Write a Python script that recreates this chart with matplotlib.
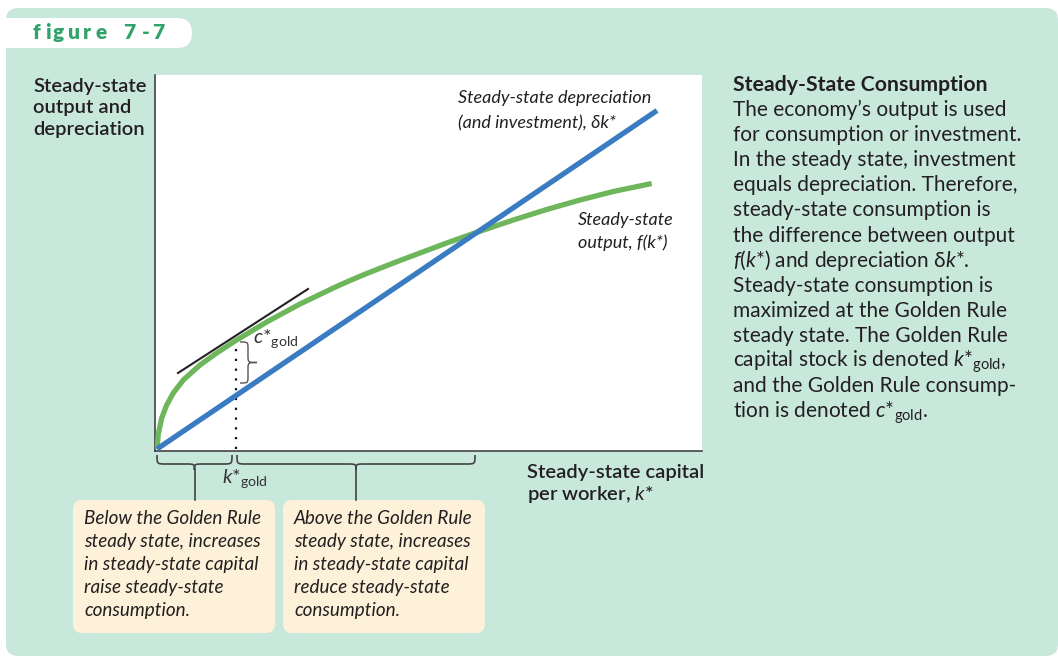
import numpy as np
import matplotlib.pyplot as plt
from matplotlib.patches import FancyBboxPatch, PathPatch
from matplotlib.path import Path

plt.rcParams['font.family'] = ['Lato', 'DejaVu Sans']
plt.rcParams['mathtext.fontset'] = 'custom'
plt.rcParams['mathtext.rm'] = 'Lato'
plt.rcParams['mathtext.it'] = 'Lato:italic'
plt.rcParams['mathtext.bf'] = 'Lato:bold'

# values (arbitrary units, no ticks in the original)
k_output = [0, 1.3, 4.7, 9.7, 16.3, 26.3, 43, 59.7, 78, 93, 109.7, 126.3, 143,
            159.7, 176.3, 193, 209.7, 226.3, 243, 256.3, 289.7, 316.3, 356.3,
            389.7, 423, 456.3, 494.7]
output = [0, 15, 31, 44, 56, 69, 84, 96, 108, 117, 127, 136, 145,
          153, 161, 168.5, 175.5, 182, 188.5, 193.5, 206, 215.5, 229,
          239.5, 249, 257.5, 265.5]
k_dep = [0, 500]
depreciation = [0, 338.5]
k_tangent = [21, 151]
tangent = [76, 160]
k_gold = 79
c_gold_top = 107
c_gold_bottom = 66
k_cross = 318

PANEL = '#c9e8dc'
CREAM = '#fdf1da'
GREEN = '#6db65b'
BLUE = '#3a7cc2'
INK = '#231f20'
TAB_GREEN = '#2fa36a'
COND = ['Liberation Sans Narrow', 'Lato', 'DejaVu Sans']


def brace(ax, u0, u1, v0, vmid, vtip, r, vertical=False, **kw):
    um = (u0 + u1) / 2
    pts = [(u0, v0), (u0, vmid), (u0, vmid), (u0 + r, vmid),
           (um - r, vmid), (um, vmid), (um, vmid), (um, vtip),
           (um, vmid), (um, vmid), (um + r, vmid),
           (u1 - r, vmid), (u1, vmid), (u1, vmid), (u1, v0)]
    codes = [Path.MOVETO] + [Path.CURVE4] * 3 + [Path.LINETO] + [Path.CURVE4] * 6 \
        + [Path.LINETO] + [Path.CURVE4] * 3
    if vertical:
        pts = [(v, u) for u, v in pts]
    ax.add_patch(PathPatch(Path(pts, codes), fill=False, clip_on=False, **kw))


fig = plt.figure(figsize=(10.58, 6.57), dpi=100)

# background in pixel coordinates
bg = fig.add_axes([0, 0, 1, 1])
bg.set_xlim(0, 1058)
bg.set_ylim(657, 0)
bg.axis('off')
bg.add_patch(FancyBboxPatch((6, 8), 1052, 648, boxstyle='round,pad=0,rounding_size=12',
                            fc=PANEL, ec='none'))
bg.add_patch(FancyBboxPatch((-30, 18), 222, 30, boxstyle='round,pad=0,rounding_size=15',
                            fc='white', ec='none'))
for ch, x in zip('figure7-7', [33, 45, 53, 68, 83, 95, 123, 142, 152]):
    bg.text(x, 39, ch, color=TAB_GREEN, fontsize=15, fontweight='heavy')

for x0, lines in [(73, ['Below the Golden Rule', 'steady state, increases',
                        'in steady-state capital', 'raise steady-state', 'consumption.']),
                  (283, ['Above the Golden Rule', 'steady state, increases',
                         'in steady-state capital', 'reduce steady-state', 'consumption.'])]:
    bg.add_patch(FancyBboxPatch((x0, 500), 202, 133, boxstyle='round,pad=0,rounding_size=9',
                                fc=CREAM, ec='none'))
    for i, s in enumerate(lines):
        bg.text(x0 + 11, 524 + 23 * i, s, family=COND, style='italic', fontsize=13.6,
                color=INK, va='baseline')

for i, s in enumerate(['Steady-state', 'output and', 'depreciation']):
    bg.text(33, 92 + 21.5 * i, s, fontsize=14.5, fontweight='semibold', color=INK,
            va='baseline')
bg.text(527, 478, 'Steady-state capital', fontsize=14.5, fontweight='semibold', color=INK,
        va='baseline')
bg.text(527, 500, r'per worker, $k$*', fontsize=14.5, fontweight='semibold', color=INK,
        va='baseline')

side = ['The economy\u2019s output is used',
        'for consumption or investment.',
        'In the steady state, investment',
        'equals depreciation. Therefore,',
        'steady-state consumption is',
        'the difference between output',
        '$f$($k$*) and depreciation \u03b4$k$*.',
        'Steady-state consumption is',
        'maximized at the Golden Rule',
        'steady state. The Golden Rule',
        r'capital stock is denoted $k{*}_{\mathrm{gold}}$,',
        'and the Golden Rule consump-',
        r'tion is denoted $c{*}_{\mathrm{gold}}$.']
bg.text(733, 91, 'Steady-State Consumption', fontsize=15.3, fontweight='bold', color=INK,
        va='baseline')
for i, s in enumerate(side):
    bg.text(733, 116 + 25.1 * i, s, fontsize=15, color=INK, va='baseline')

# main chart, one data unit is one pixel
ax = fig.add_axes([155 / 1058, (657 - 451) / 657, 547 / 1058, 376 / 657])
ax.set_xlim(-2, 545)
ax.set_ylim(-2, 374)
ax.set_facecolor('white')
for sp in ['top', 'right']:
    ax.spines[sp].set_visible(False)
for sp in ['left', 'bottom']:
    ax.spines[sp].set_color('#333333')
    ax.spines[sp].set_linewidth(1.1)
ax.set_xticks([])
ax.set_yticks([])

ax.plot(k_output, output, color=GREEN, lw=3.8, solid_capstyle='butt', zorder=3)
ax.plot(k_dep, depreciation, color=BLUE, lw=3.8, solid_capstyle='butt', zorder=4)
ax.plot(k_tangent, tangent, color='#222222', lw=1.5, zorder=5)
ax.plot([k_gold, k_gold], [0, c_gold_top - 1], color='#111111', lw=1.6,
        linestyle=(0, (1, 3.4)), zorder=2)

brace(ax, c_gold_bottom, c_gold_top, 83, 91, 100, 7, vertical=True,
      ec='#555555', lw=1.0, zorder=5)
ax.text(96, 106, r'$c{*}_{\mathrm{gold}}$', fontsize=14.5, color='#333333', va='baseline')

brace(ax, 0, k_gold - 4, -6, -15, -21, 9, ec='#444444', lw=1.2)
brace(ax, k_gold + 1, k_cross, -6, -15, -21, 9, ec='#444444', lw=1.2)
ax.plot([(k_gold - 4) / 2] * 2, [-21, -51], color='#333333', lw=1.1, clip_on=False)
ax.plot([(k_gold + 1 + k_cross) / 2] * 2, [-21, -51], color='#333333', lw=1.1, clip_on=False)
ax.text(k_gold - 14, -34, r'$k{*}_{\mathrm{gold}}$', fontsize=14.5, color='#333333',
        va='baseline', clip_on=False)

ax.text(301, 449 - 103, 'Steady-state depreciation', family=COND, style='italic',
        fontsize=13, color=INK, va='baseline')
ax.text(301, 449 - 128, '(and investment), \u03b4k*', family=COND, style='italic',
        fontsize=13, color=INK, va='baseline')
ax.text(421, 449 - 225, 'Steady-state', family=COND, style='italic',
        fontsize=13, color=INK, va='baseline')
ax.text(421, 449 - 248, 'output, f(k*)', family=COND, style='italic',
        fontsize=13, color=INK, va='baseline')

plt.savefig('out.png', dpi=100)
